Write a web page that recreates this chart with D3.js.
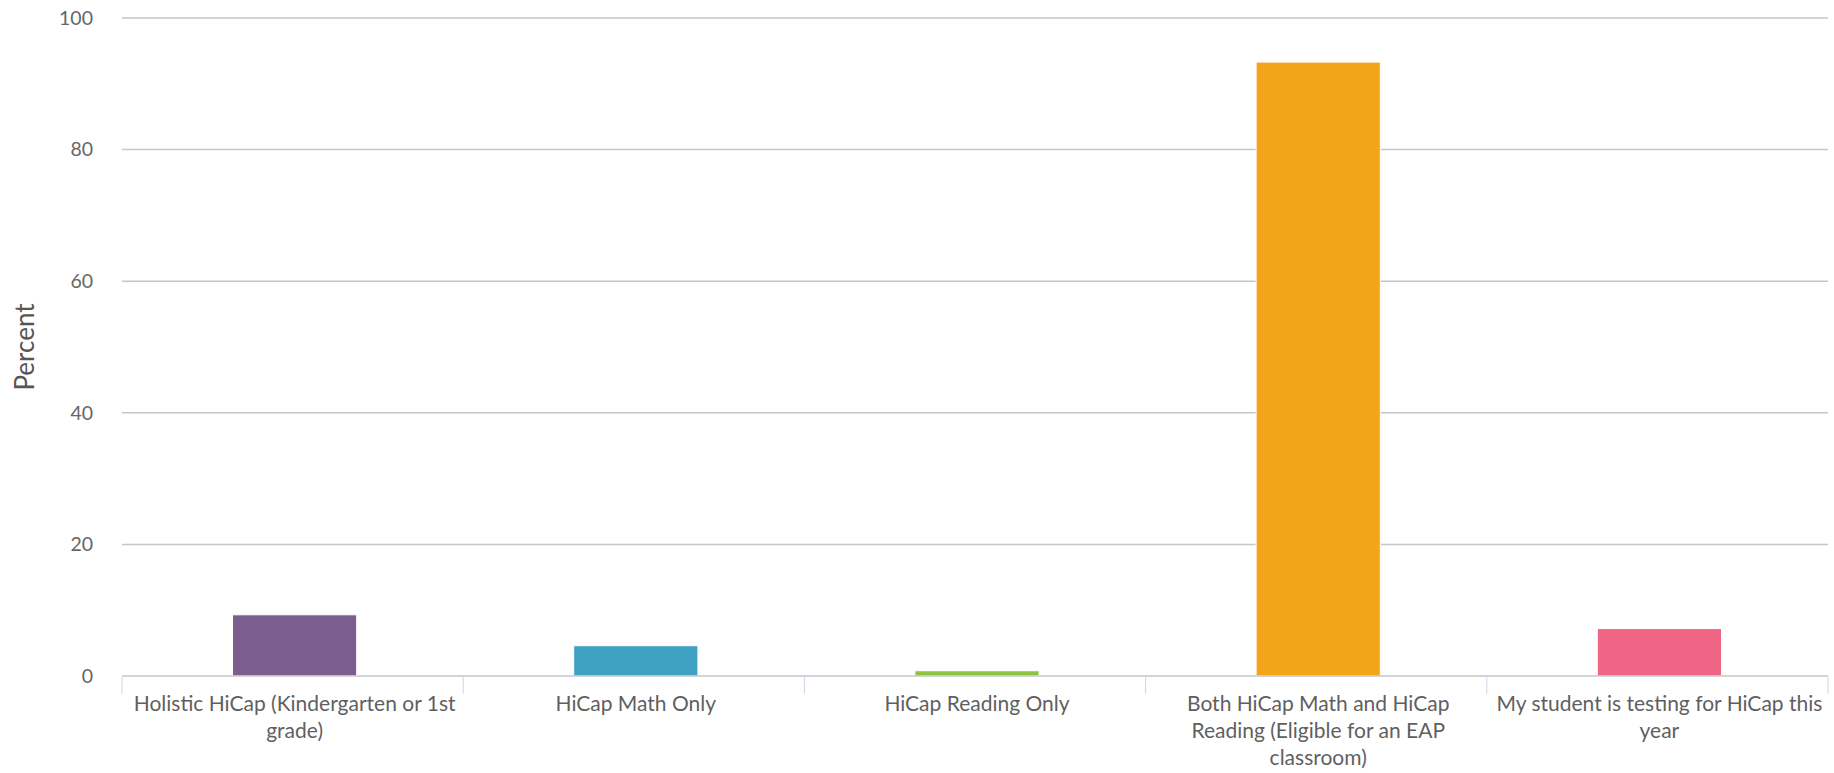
<!DOCTYPE html>
<html>
<head>
<meta charset="utf-8">
<script src="https://cdn.jsdelivr.net/npm/d3@7"></script>
<style>
  body { margin: 0; background: #fff; }
  text { font-family: Lato, "Open Sans", sans-serif; }
</style>
</head>
<body>
<svg id="chart"></svg>
<script>
const categories = ["Holistic HiCap (Kindergarten or 1st grade)",
                    "HiCap Math Only",
                    "HiCap Reading Only",
                    "Both HiCap Math and HiCap Reading (Eligible for an EAP classroom)",
                    "My student is testing for HiCap this year"];
const values = [9.3, 4.6, 0.8, 93.3, 7.2];
const colors = ["#7b5e8d", "#3fa1c1", "#8cc43f", "#f4a419", "#ef6586"];
const yTicks = [0, 20, 40, 60, 80, 100];

const w = 1834, h = 773;
const margin = {top: 18, right: 6, bottom: 97, left: 122};
const width = w - margin.left - margin.right;
const height = h - margin.top - margin.bottom;

let svg = d3.select("#chart")
    .attr("width", w)
    .attr("height", h);

let g = svg.append("g")
    .attr("transform", "translate(" + margin.left + "," + margin.top + ")");

var x = d3.scaleBand()
    .domain(categories)
    .range([0, width]);

var y = d3.scaleLinear()
    .domain([0, 100])
    .range([height, 0]);

// grid lines
g.append("g")
    .selectAll("line")
    .data(yTicks.filter(d => d > 0))
    .enter().append("line")
    .attr("x1", 0)
    .attr("x2", width)
    .attr("y1", d => y(d))
    .attr("y2", d => y(d))
    .attr("stroke", "#c6c6c6")
    .attr("stroke-width", 1.5);

// y labels
g.append("g")
    .selectAll("text")
    .data(yTicks)
    .enter().append("text")
    .attr("x", -29)
    .attr("y", d => y(d))
    .attr("dy", "0.35em")
    .attr("text-anchor", "end")
    .attr("fill", "#666")
    .style("font-size", "19.5px")
    .text(d => d);

// bars
let barFrac = 0.364;
g.append("g")
    .selectAll("rect")
    .data(values)
    .enter().append("rect")
    .attr("x", (d, i) => x(categories[i]) + x.bandwidth() * (1 - barFrac) / 2 + 2)
    .attr("width", x.bandwidth() * barFrac)
    .attr("y", d => y(d))
    .attr("height", d => y(0) - y(d))
    .attr("fill", (d, i) => colors[i])
    .attr("stroke", "#fff")
    .attr("stroke-width", 1);

// x axis baseline + ticks at category boundaries
g.append("line")
    .attr("x1", 0)
    .attr("x2", width)
    .attr("y1", height)
    .attr("y2", height)
    .attr("stroke", "#c6c6c6")
    .attr("stroke-width", 1.5);

let bounds = categories.map(c => x(c)).concat([width]);
g.append("g")
    .selectAll("line")
    .data(bounds)
    .enter().append("line")
    .attr("x1", d => d)
    .attr("x2", d => d)
    .attr("y1", height + 1)
    .attr("y2", height + 18)
    .attr("stroke", "#ccd6eb")
    .attr("stroke-width", 1);

// x labels, wrapped
function wrap(textSel, maxWidth) {
    textSel.each(function (d) {
        let text = d3.select(this);
        let words = d.split(" ");
        let line = [];
        let tspan = text.append("tspan").attr("x", 0).attr("dy", 0);
        words.forEach(function (word) {
            line.push(word);
            tspan.text(line.join(" "));
            if (tspan.node().getComputedTextLength() > maxWidth && line.length > 1) {
                line.pop();
                tspan.text(line.join(" "));
                line = [word];
                tspan = text.append("tspan").attr("x", 0).attr("dy", "1.28em").text(word);
            }
        });
    });
}

g.append("g")
    .selectAll("text")
    .data(categories)
    .enter().append("text")
    .attr("transform", d => "translate(" + (x(d) + x.bandwidth() / 2 + 2) + "," + (height + 35) + ")")
    .attr("text-anchor", "middle")
    .attr("fill", "#5f5f5f")
    .style("font-size", "21px")
    .call(wrap, 333);

// y axis title
svg.append("text")
    .attr("transform", "translate(" + 34 + "," + (margin.top + height / 2) + ") rotate(-90)")
    .attr("text-anchor", "middle")
    .attr("fill", "#555")
    .style("font-size", "26px")
    .text("Percent");
</script>
</body>
</html>
